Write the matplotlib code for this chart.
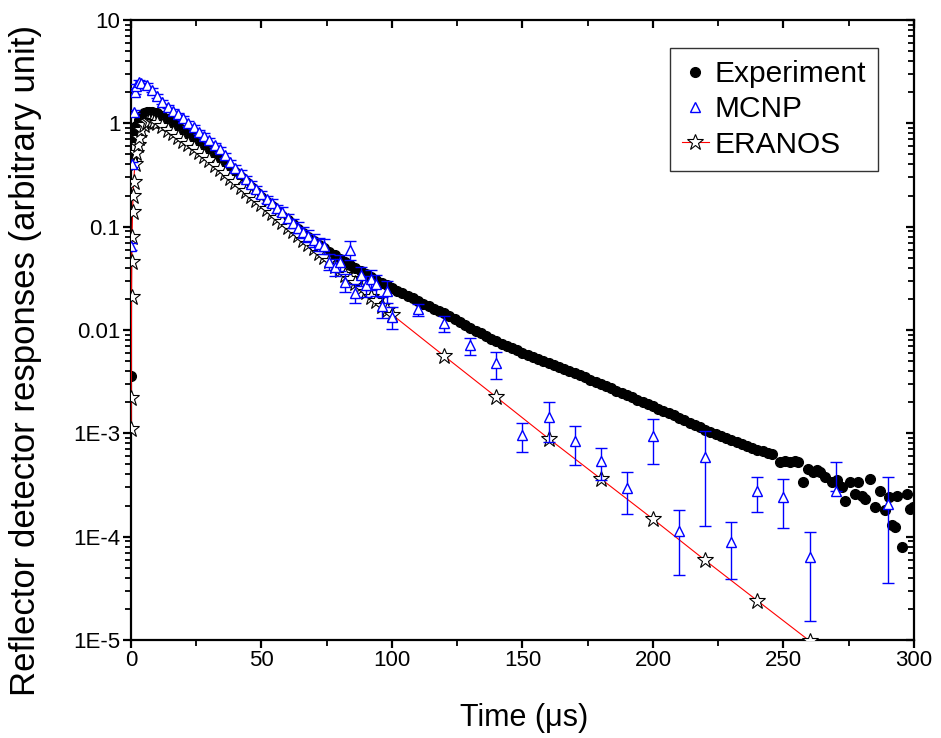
import numpy as np
import matplotlib
matplotlib.use("Agg")
import matplotlib.pyplot as plt
from matplotlib.lines import Line2D
from matplotlib.ticker import LogLocator, MultipleLocator, FixedLocator, FixedFormatter, NullFormatter

plt.rcParams['font.family'] = ['Liberation Sans', 'DejaVu Sans']

# ---------------- Experiment ----------------
exp_time_early = [0, 0.5, 1, 1.5, 2, 3, 4, 5, 6, 7, 8, 9, 10]
exp_value_early = [0.0036, 0.45, 0.70, 0.85, 0.95, 1.08, 1.18, 1.25, 1.29, 1.30, 1.29, 1.27, 1.25]

exp_time_band = np.arange(12, 246, 2)
exp_value_band = [
    1.19, 1.11, 1.02, 0.944, 0.871, 0.804, 0.741, 0.684, 0.631, 0.575,
    0.519, 0.468, 0.422, 0.380, 0.339, 0.303, 0.272, 0.243, 0.218, 0.195,
    0.175, 0.158, 0.142, 0.128, 0.115, 0.105, 0.0955, 0.0871, 0.0794, 0.0724,
    0.0670, 0.0619, 0.0573, 0.0530, 0.0490, 0.0457, 0.0427, 0.0398, 0.0372, 0.0347,
    0.0326, 0.0306, 0.0288, 0.0270, 0.0254, 0.0240, 0.0226, 0.0214, 0.0202, 0.0191,
    0.0180, 0.0171, 0.0161, 0.0153, 0.0145, 0.0136, 0.0127, 0.0119, 0.0112, 0.0105,
    0.00986, 0.00929, 0.00875, 0.00824, 0.00776, 0.00738, 0.00701, 0.00667, 0.00634, 0.00603,
    0.00575, 0.00550, 0.00525, 0.00501, 0.00479, 0.00457, 0.00437, 0.00417, 0.00398, 0.00380,
    0.00363, 0.00347, 0.00331, 0.00316, 0.00302, 0.00287, 0.00273, 0.00259, 0.00247, 0.00234,
    0.00223, 0.00212, 0.00201, 0.00191, 0.00182, 0.00173, 0.00164, 0.00156, 0.00149, 0.00141,
    0.00134, 0.00127, 0.00121, 0.00114, 0.00108, 0.00104, 0.000989, 0.000944, 0.000902, 0.000861,
    0.000824, 0.000789, 0.000755, 0.000723, 0.000692, 0.000668, 0.000646,
]

exp_time_tail = [245.5, 248.7, 250.5, 252.5, 254.5, 255.6, 257.5, 259.4, 261.3, 263.0,
                 264.0, 265.9, 268.6, 270.5, 272.4, 273.6, 275.5, 277.4, 278.5, 280.0,
                 281.2, 283.1, 285.0, 287.0, 288.9, 290.5, 291.6, 292.7, 293.5, 295.4,
                 297.3, 298.5, 299.6]
exp_value_tail = [6.3e-4, 5.25e-4, 5.4e-4, 5.25e-4, 5.4e-4, 5.25e-4, 3.4e-4, 4.5e-4, 4.2e-4, 4.4e-4,
                  4.2e-4, 3.8e-4, 3.4e-4, 3.55e-4, 3.0e-4, 2.2e-4, 3.4e-4, 2.6e-4, 3.4e-4, 2.5e-4,
                  2.3e-4, 3.6e-4, 1.95e-4, 2.75e-4, 1.8e-4, 2.4e-4, 1.3e-4, 1.23e-4, 2.45e-4, 7.9e-5,
                  2.6e-4, 1.86e-4, 1.95e-4]

# ---------------- MCNP ----------------
mcnp_time_dense = [0, 0.5, 1, 1.5, 2, 3, 4] + list(np.arange(6, 101, 2))
mcnp_value_dense = [
    0.065, 0.40, 1.30, 2.00, 2.30, 2.50, 2.45,
    2.35, 2.10, 1.85, 1.62, 1.45, 1.33, 1.22, 1.12,
    1.00, 0.92, 0.83, 0.76, 0.69, 0.62, 0.56, 0.49, 0.42, 0.37,
    0.33, 0.29, 0.26, 0.23, 0.205, 0.185, 0.17, 0.15, 0.14, 0.12,
    0.108, 0.098, 0.088, 0.082, 0.074, 0.068, 0.065, 0.046, 0.041, 0.045,
    0.029, 0.060, 0.023, 0.034, 0.027, 0.031, 0.028, 0.017, 0.024, 0.0135,
]
mcnp_relerr_dense = [
    0.08, 0.05, 0.04, 0.04, 0.04, 0.04, 0.04,
    0.04, 0.04, 0.04, 0.04, 0.04, 0.04, 0.04, 0.04,
    0.05, 0.05, 0.05, 0.05, 0.05, 0.05, 0.06, 0.06, 0.06, 0.06,
    0.07, 0.07, 0.07, 0.08, 0.08, 0.08, 0.09, 0.09, 0.10, 0.10,
    0.11, 0.12, 0.12, 0.13, 0.14, 0.15, 0.16, 0.17, 0.18, 0.18,
    0.19, 0.20, 0.20, 0.21, 0.22, 0.22, 0.23, 0.24, 0.24, 0.25,
]

mcnp_time_sparse = [110, 120, 130, 140, 150, 160, 170, 180, 190, 200,
                    210, 220, 230, 240, 250, 260, 270, 290]
mcnp_value_sparse = [0.0158, 0.0116, 0.00708, 0.00474, 0.000957, 0.00143, 0.000838, 0.000537, 0.000295, 0.000935,
                     0.000113, 0.000586, 8.85e-5, 0.000275, 0.000241, 6.34e-5, 0.000277, 0.000206]
mcnp_err_low_sparse = [0.002, 0.002, 0.00135, 0.0014, 0.0003, 0.0006, 0.00034, 0.00018, 0.00013, 0.00043,
                       7.0e-5, 0.00046, 5.0e-5, 0.0001, 0.00012, 4.8e-5, 0.0, 0.00017]
mcnp_err_high_sparse = [0.002, 0.002, 0.00135, 0.0014, 0.0003, 0.0006, 0.00034, 0.00018, 0.00013, 0.00043,
                        7.0e-5, 0.00046, 5.0e-5, 0.0001, 0.00012, 4.8e-5, 0.00025, 0.00017]

# ---------------- ERANOS ----------------
eranos_time = ([0, 0.1, 0.2, 0.3, 0.4, 0.6, 0.8, 1.0, 1.5, 2, 2.5, 3, 4, 5, 6, 7, 8, 9, 10]
               + list(np.arange(12, 101, 2))
               + [120, 140, 160, 180, 200, 220, 240, 260])
eranos_value = [
    1.1e-3, 2.2e-3, 0.021, 0.046, 0.08, 0.14, 0.20, 0.27, 0.40, 0.52,
    0.62, 0.72, 0.86, 0.96, 1.02, 1.05, 1.05, 1.03, 1.00,
    0.933, 0.867, 0.804, 0.741, 0.682, 0.627, 0.574, 0.525, 0.479, 0.437,
    0.396, 0.360, 0.327, 0.296, 0.269, 0.244, 0.221, 0.200, 0.181, 0.164,
    0.149, 0.135, 0.122, 0.110, 0.100, 0.0908, 0.0824, 0.0748, 0.0679, 0.0617,
    0.0560, 0.0508, 0.0461, 0.0419, 0.0380, 0.0344, 0.0312, 0.0282, 0.0256, 0.0232,
    0.0210, 0.0190, 0.0172, 0.0156, 0.0141,
    0.0056, 0.00224, 0.00089, 0.000363, 0.000148, 5.9e-5, 2.4e-5, 9.8e-6,
]

# ---------------- figure ----------------
fig = plt.figure(figsize=(9.41, 7.38), dpi=100)
ax = fig.add_axes([0.1392, 0.1328, 0.9713 - 0.1392, 0.9729 - 0.1328])
ax.set_yscale('log')
ax.set_xlim(0, 300)
ax.set_ylim(1e-5, 10)

exp_t = np.concatenate([exp_time_early, exp_time_band, exp_time_tail])
exp_v = np.concatenate([exp_value_early, exp_value_band, exp_value_tail])
ax.plot(exp_t, exp_v, linestyle='none', marker='o', ms=7, color='black',
        mec='black', zorder=2)

ax.plot(eranos_time, eranos_value, color='red', lw=0.8, marker='*', ms=12,
        mfc='white', mec='black', mew=0.8, zorder=3)

mcnp_t = np.array(mcnp_time_dense, dtype=float)
mcnp_v = np.array(mcnp_value_dense)
mcnp_e = mcnp_v * np.array(mcnp_relerr_dense)
ax.errorbar(mcnp_t, mcnp_v, yerr=mcnp_e, fmt='^', ms=7.5, mfc='white', mec='blue',
            mew=1.0, ecolor='blue', elinewidth=1.0, capsize=4.5, capthick=1.0, zorder=4)
ax.errorbar(mcnp_time_sparse, mcnp_value_sparse,
            yerr=[mcnp_err_low_sparse, mcnp_err_high_sparse], fmt='^', ms=7.5,
            mfc='white', mec='blue', mew=1.0, ecolor='blue', elinewidth=1.0,
            capsize=4.5, capthick=1.0, zorder=4)

# axes styling
for sp in ax.spines.values():
    sp.set_linewidth(1.6)
ax.xaxis.set_major_locator(MultipleLocator(50))
ax.xaxis.set_minor_locator(MultipleLocator(25))
ax.yaxis.set_minor_locator(LogLocator(base=10, subs=np.arange(2, 10), numticks=20))
ax.yaxis.set_minor_formatter(NullFormatter())
ytick_vals = [1e-5, 1e-4, 1e-3, 1e-2, 1e-1, 1, 10]
ytick_text = ['1E-5', '1E-4', '1E-3', '0.01', '0.1', '1', '10']
ax.yaxis.set_major_locator(FixedLocator(ytick_vals))
ax.yaxis.set_major_formatter(FixedFormatter(ytick_text))
ax.tick_params(axis='both', which='major', direction='out', length=6, width=1.6,
               labelsize=16, pad=1.5)
ax.tick_params(axis='both', which='minor', direction='out', length=4, width=1.3)

# inward ticks along top and right
ax2 = fig.add_axes(ax.get_position(), sharex=ax, sharey=ax, frameon=False)
ax2.tick_params(axis='both', which='both', direction='in', left=False, bottom=False,
                labelleft=False, labelbottom=False, top=True, right=True)
ax2.tick_params(axis='both', which='major', length=6, width=1.6)
ax2.tick_params(axis='both', which='minor', length=4, width=1.3)
ax2.patch.set_visible(False)

ax.set_xlabel('Time (\u03bcs)', fontsize=22)
ax.xaxis.set_label_coords(0.502, -0.1016)
ax.set_ylabel('Reflector detector responses (arbitrary unit)', fontsize=25)
ax.yaxis.set_label_coords(-0.1137, 0.4516)

handles = [
    Line2D([], [], linestyle='none', marker='o', ms=7, color='black'),
    Line2D([], [], linestyle='none', marker='^', ms=7.5, mfc='white', mec='blue', mew=1.0),
    Line2D([], [], color='red', lw=0.8, marker='*', ms=12, mfc='white', mec='black', mew=0.8),
]
leg = ax.legend(handles, ['Experiment', 'MCNP', 'ERANOS'], loc='upper right',
                bbox_to_anchor=(0.954, 0.9548), fontsize=21.5, frameon=True, fancybox=False,
                edgecolor='black', handlelength=0.9, handletextpad=0.2, labelspacing=0.25,
                borderpad=0.4, borderaxespad=0.0)
leg.get_frame().set_linewidth(1.0)
leg.set_zorder(10)

fig.savefig('out.png', dpi=100)
